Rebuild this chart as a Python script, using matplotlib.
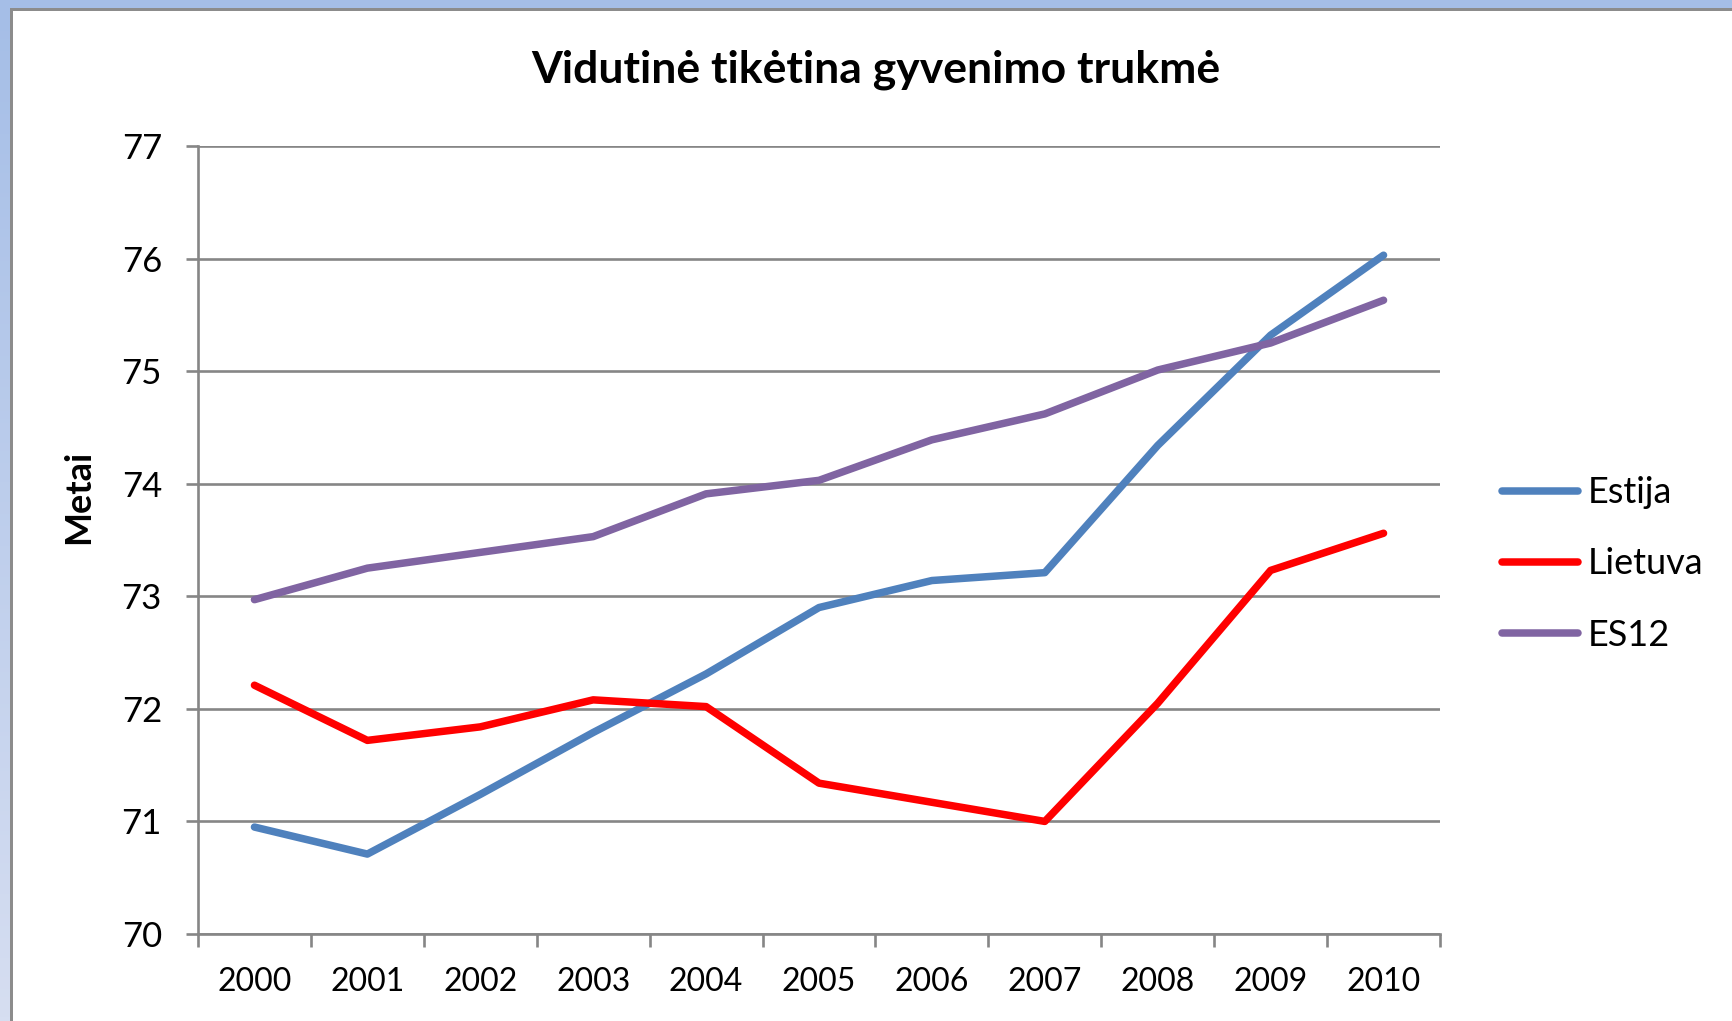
import matplotlib
matplotlib.use("Agg")
import matplotlib.pyplot as plt
from matplotlib.patches import Rectangle
import numpy as np

years = ["2000", "2001", "2002", "2003", "2004", "2005",
         "2006", "2007", "2008", "2009", "2010"]
estija = [70.95, 70.71, 71.24, 71.79, 72.31, 72.90, 73.14, 73.21, 74.34, 75.32, 76.03]
lietuva = [72.21, 71.72, 71.84, 72.08, 72.02, 71.34, 71.17, 71.00, 72.05, 73.23, 73.56]
es12 = [72.97, 73.25, 73.39, 73.53, 73.91, 74.03, 74.39, 74.62, 75.01, 75.25, 75.63]
series_names = ["Estija", "Lietuva", "ES12"]
colors = ["#4F81BD", "#FF0000", "#8064A2"]

plt.rcParams['font.family'] = ['Lato', 'DejaVu Sans']

W, H = 1733, 1021
fig = plt.figure(figsize=(W / 100, H / 100), dpi=100)
fig.patch.set_facecolor("white")

# frame: blue band top/left with gray edge
fig.patches.append(Rectangle((0, 1 - 8 / H), 1, 8 / H, transform=fig.transFigure,
                             facecolor="#A5BEE7", edgecolor="none", zorder=0))
grad_ax = fig.add_axes([0, 0, 10 / W, 1 - 8 / H])
grad = np.linspace(0, 1, 256).reshape(-1, 1)
grad_ax.imshow(grad, aspect="auto", extent=[0, 1, 0, 1],
               cmap=matplotlib.colors.LinearSegmentedColormap.from_list("b", ["#D6DEF1", "#A5BEE7"]),
               origin="lower")
grad_ax.axis("off")
fig.patches.append(Rectangle((10 / W, 0), 3 / W, 1 - 8 / H, transform=fig.transFigure,
                             facecolor="#8C8C8C", edgecolor="none", zorder=1))
fig.patches.append(Rectangle((10 / W, 1 - 11 / H), 1, 3 / H, transform=fig.transFigure,
                             facecolor="#8C8C8C", edgecolor="none", zorder=1))

ax = fig.add_axes([198 / W, 1 - 934 / H, (1440 - 198) / W, (934 - 146) / H])
x = np.arange(len(years))
for vals, name, c in zip([estija, lietuva, es12], series_names, colors):
    ax.plot(x, vals, color=c, lw=5.4, label=name, solid_capstyle="round",
            solid_joinstyle="round", zorder=3)

ax.set_xlim(-0.5, len(years) - 0.5)
ax.set_ylim(70, 77)
ax.set_yticks(range(70, 78))
ax.yaxis.grid(True, color="#868686", lw=1.9)
ax.set_axisbelow(True)
ax.set_xticks(np.arange(-0.5, len(years), 1.0))
ax.set_xticklabels([])
ax.set_xticks(x, minor=True)
ax.set_xticklabels(years, minor=True)
ax.tick_params(axis="x", which="major", length=9, width=1.9, color="#868686", direction="out")
ax.tick_params(axis="x", which="minor", length=0, labelsize=23, pad=24)
ax.tick_params(axis="y", length=9, width=1.9, color="#868686", labelsize=25, pad=17)
for s in ["top", "right"]:
    ax.spines[s].set_visible(False)
for s in ["left", "bottom"]:
    ax.spines[s].set_color("#868686")
    ax.spines[s].set_linewidth(1.9)

ax.set_ylabel("Metai", fontsize=26, fontweight="bold", labelpad=10)
ax.yaxis.set_label_coords(-0.083, 0.555)
fig.text(876 / W, 1 - 70 / H, "Vidutinė tikėtina gyvenimo trukmė", ha="center", va="center",
         fontsize=32, fontweight="bold")

ax.legend(loc="center left", bbox_to_anchor=(1470 / W, 1 - 564 / H), bbox_transform=fig.transFigure,
          frameon=False, fontsize=26, handlelength=2.1, handletextpad=0.25, labelspacing=1.06)

fig.savefig("out.png", dpi=100, facecolor="white")
